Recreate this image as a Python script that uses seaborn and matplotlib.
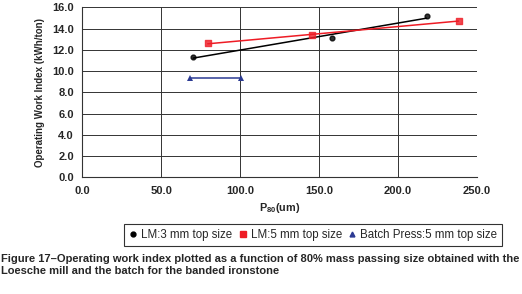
import matplotlib
matplotlib.use("Agg")
import matplotlib.pyplot as plt
import seaborn as sns
import numpy as np
import pandas as pd
from matplotlib.lines import Line2D

# Data
lm3_x = [70.3, 158.4, 218.2]
lm3_y = [11.35, 13.13, 15.17]
lm5_x = [79.5, 145.4, 238.5]
lm5_y = [12.6, 13.39, 14.73]
bp_x = [68.3, 100.6]
bp_y = [9.34, 9.34]
x_ticks = [0, 50, 100, 150, 200, 250]
y_ticks = [0, 2, 4, 6, 8, 10, 12, 14, 16]

sns.set_style("white")
plt.rcParams['font.family'] = ['Liberation Sans', 'DejaVu Sans']

fig = plt.figure(figsize=(5.22, 2.94), dpi=100)
ax = fig.add_axes([82.3/522, 1-177.3/294, (476.7-82.3)/522, (177.3-7.3)/294])

sns.regplot(x=lm3_x, y=lm3_y, ci=None, color="black", marker="o",
            scatter_kws={"s": 12, "zorder": 4}, line_kws={"lw": 1.1, "zorder": 3}, ax=ax)
sns.regplot(x=lm5_x, y=lm5_y, ci=None, color="#ee1c25", marker="s",
            scatter_kws={"s": 20, "zorder": 4}, line_kws={"lw": 1.1, "zorder": 3}, ax=ax)
sns.lineplot(x=bp_x, y=bp_y, color="#2b3a93", marker="^", markersize=4.5,
             markeredgewidth=0, lw=1.1, ax=ax, zorder=3)

ax.set_xlim(0, 250)
ax.set_ylim(0, 16)
ax.set_xticks(x_ticks)
ax.set_yticks(y_ticks)
ax.set_xticklabels([f"{v:.1f}" for v in x_ticks], fontsize=8, fontweight="bold")
ax.set_yticklabels([f"{v:.1f}" for v in y_ticks], fontsize=8, fontweight="bold")
ax.grid(True, color="#333333", lw=0.7)
for s in ["top", "right"]:
    ax.spines[s].set_visible(False)
for s in ["left", "bottom"]:
    ax.spines[s].set_color("#333333")
    ax.spines[s].set_linewidth(0.8)
ax.tick_params(axis="both", direction="out", length=3, width=0.8, color="#333333", pad=3)
ax.set_xlabel(r"P$_{\mathregular{80}}$(um)", fontsize=7.8, fontweight="bold", labelpad=4)
ax.set_ylabel("Operating Work Index (kWh/ton)", fontsize=7.0, fontweight="bold", labelpad=5)

handles = [
    Line2D([], [], ls="none", marker="o", color="black", markersize=3.5),
    Line2D([], [], ls="none", marker="s", color="#ee1c25", markersize=5),
    Line2D([], [], ls="none", marker="^", color="#2b3a93", markersize=3.5),
]
labels = ["LM:3 mm top size", "LM:5 mm top size", "Batch Press:5 mm top size"]
leg = fig.legend(handles, labels, loc="center", bbox_to_anchor=(313.4/522, 1-235/294),
                 ncol=3, fontsize=8.3, frameon=True, fancybox=False, edgecolor="black",
                 handlelength=0.6, handletextpad=0.4, columnspacing=0.6,
                 borderpad=0.45, borderaxespad=0)
leg.get_frame().set_linewidth(0.8)

fig.text(1/522, 1-259/294, "Figure 17\u2013Operating work index plotted as a function of 80% mass passing size obtained with the",
         fontsize=8, fontweight="bold", va="center", ha="left")
fig.text(1/522, 1-271/294, "Loesche mill and the batch for the banded ironstone",
         fontsize=8, fontweight="bold", va="center", ha="left")

fig.savefig("out.png", dpi=100)
